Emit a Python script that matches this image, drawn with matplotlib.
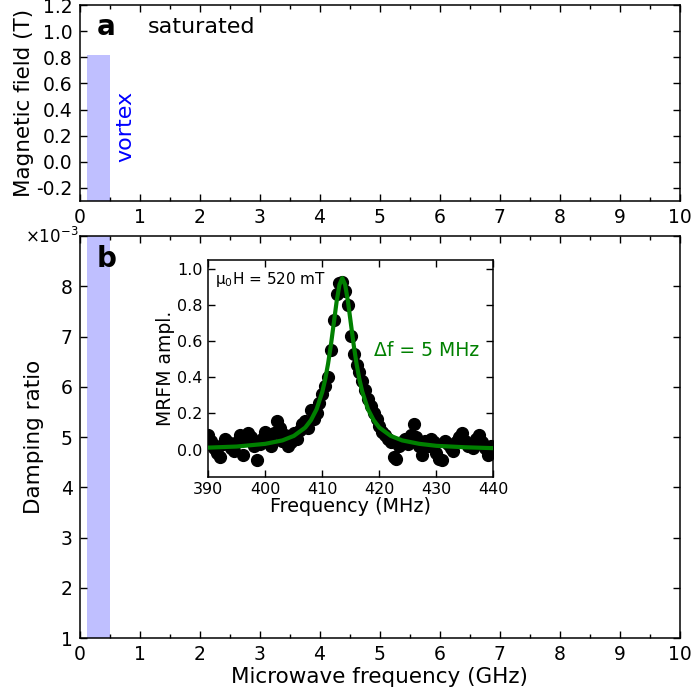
import numpy as np
import matplotlib
matplotlib.use('Agg')
import matplotlib.pyplot as plt
from matplotlib.ticker import MultipleLocator, FuncFormatter

# --- data ---
vortex_band = [0.13, 0.51]      # GHz, shaded vortex region
vortex_top = 0.82               # T, top of the band in panel a

# MRFM spectrum at mu0H = 520 mT, sampled every 0.5 MHz from 390 to 440 MHz
ampl = [0.08, 0.05, 0.01, -0.02, -0.04, 0.03, 0.06, 0.04, 0.01, -0.01,
        0.04, 0.08, -0.03, 0.06, 0.09, 0.07, 0.02, -0.06, 0.03, 0.06,
        0.10, 0.04, 0.02, 0.09, 0.16, 0.12, 0.05, 0.08, 0.02, 0.04,
        0.09, 0.06, 0.11, 0.14, 0.16, 0.12, 0.22, 0.17, 0.20, 0.26,
        0.31, 0.35, 0.40, 0.55, 0.72, 0.86, 0.92, 0.93, 0.88, 0.80,
        0.63, 0.53, 0.47, 0.43, 0.38, 0.33, 0.28, 0.24, 0.20, 0.17,
        0.13, 0.10, 0.08, 0.06, 0.04, -0.04, -0.05, 0.02, 0.04, 0.06,
        0.03, 0.08, 0.14, 0.07, 0.02, -0.03, 0.05, 0.02, 0.06, 0.04,
        -0.02, -0.05, -0.06, 0.05, 0.03, 0.01, -0.01, 0.04, 0.07, 0.09,
        0.05, 0.02, 0.03, 0.01, 0.06, 0.08, 0.04, 0.01, -0.03, 0.02,
        -0.01]
freq = np.linspace(390, 440, len(ampl))

# Lorentzian fit (df = 5 MHz), values read at these frequencies
fit_freq = [390, 395, 400, 403, 405, 407, 408, 409, 410, 410.5, 411, 411.5,
            412, 412.5, 413, 413.5, 414, 414.5, 415, 415.5, 416, 416.5, 417,
            418, 419, 420, 422, 424, 427, 430, 435, 440]
fit_ampl = [0.011, 0.017, 0.032, 0.051, 0.076, 0.122, 0.163, 0.224, 0.321,
            0.389, 0.475, 0.579, 0.699, 0.819, 0.913, 0.95, 0.913, 0.819,
            0.699, 0.579, 0.475, 0.389, 0.321, 0.224, 0.163, 0.122, 0.076,
            0.051, 0.032, 0.021, 0.013, 0.008]

band_color = '#bfbfff'
fit_color = '#008000'

fig = plt.figure(figsize=(6.94, 6.96), dpi=100)
ax_a = fig.add_axes([0.1146, 0.7112, 0.8646, 0.2816])
ax_b = fig.add_axes([0.1146, 0.0833, 0.8646, 0.5776])
ax_in = fig.add_axes([0.3002, 0.3151, 0.4107, 0.3113])

for ax in (ax_a, ax_b, ax_in):
    ax.tick_params(which='both', direction='in', top=True, right=True, width=1)
    ax.tick_params(which='major', length=5)
    ax.tick_params(which='minor', length=3)
    for s in ax.spines.values():
        s.set_linewidth(1.1)

# panel a
ax_a.fill_between(vortex_band, -0.3, vortex_top, color=band_color, lw=0)
ax_a.set_xlim(0, 10)
ax_a.set_ylim(-0.3, 1.2)
ax_a.xaxis.set_major_locator(MultipleLocator(1))
ax_a.xaxis.set_minor_locator(MultipleLocator(0.5))
ax_a.yaxis.set_major_locator(MultipleLocator(0.2))
ax_a.yaxis.set_major_formatter(FuncFormatter(lambda v, p: f'{v:.1f}'))
ax_a.tick_params(labelsize=13.5, pad=5)
ax_a.set_ylabel('Magnetic field (T)', fontsize=15.5, labelpad=2)
ax_a.text(0.28, 1.03, 'a', fontsize=20, fontweight='bold', va='center')
ax_a.text(1.13, 1.03, 'saturated', fontsize=16, va='center')
ax_a.text(0.77, 0.27, 'vortex', fontsize=16, color='blue', rotation=90,
          ha='center', va='center')

# panel b
ax_b.axvspan(vortex_band[0], vortex_band[1], color=band_color, lw=0)
ax_b.set_xlim(0, 10)
ax_b.set_ylim(1e-3, 9e-3)
ax_b.xaxis.set_major_locator(MultipleLocator(1))
ax_b.xaxis.set_minor_locator(MultipleLocator(0.5))
ax_b.yaxis.set_major_locator(MultipleLocator(1e-3))
ax_b.yaxis.set_major_formatter(FuncFormatter(lambda v, p: '' if v > 8.5e-3 else f'{v * 1e3:.0f}'))
ax_b.tick_params(labelsize=13.5, pad=5)
ax_b.set_xlabel('Microwave frequency (GHz)', fontsize=15.5, labelpad=2)
ax_b.set_ylabel('Damping ratio', fontsize=15.5, labelpad=12)
ax_b.text(-0.002, 0.998, r'$\times10^{-3}$', transform=ax_b.transAxes,
          fontsize=12, ha='right', va='center')
ax_b.text(0.028, 0.944, 'b', transform=ax_b.transAxes, fontsize=20,
          fontweight='bold', va='center')

# inset
ax_in.plot(freq, ampl, 'o', color='black', ms=8.5, zorder=2)
ax_in.plot(fit_freq, fit_ampl, '-', color=fit_color, lw=3, zorder=3)
ax_in.set_xlim(390, 440)
ax_in.set_ylim(-0.15, 1.05)
ax_in.xaxis.set_major_locator(MultipleLocator(10))
ax_in.yaxis.set_major_locator(MultipleLocator(0.2))
ax_in.yaxis.set_major_formatter(FuncFormatter(lambda v, p: f'{v:.1f}'))
ax_in.tick_params(labelsize=11.5, pad=4)
ax_in.set_xlabel('Frequency (MHz)', fontsize=13.8, labelpad=0)
ax_in.set_ylabel('MRFM ampl.', fontsize=13.5, labelpad=2)
ax_in.text(391.2, 0.94, 'μ$_0$H = 520 mT', fontsize=11, va='center')
ax_in.text(419.1, 0.55, 'Δf = 5 MHz', fontsize=13.5, color=fit_color, va='center')

fig.savefig('out.png', dpi=100)
